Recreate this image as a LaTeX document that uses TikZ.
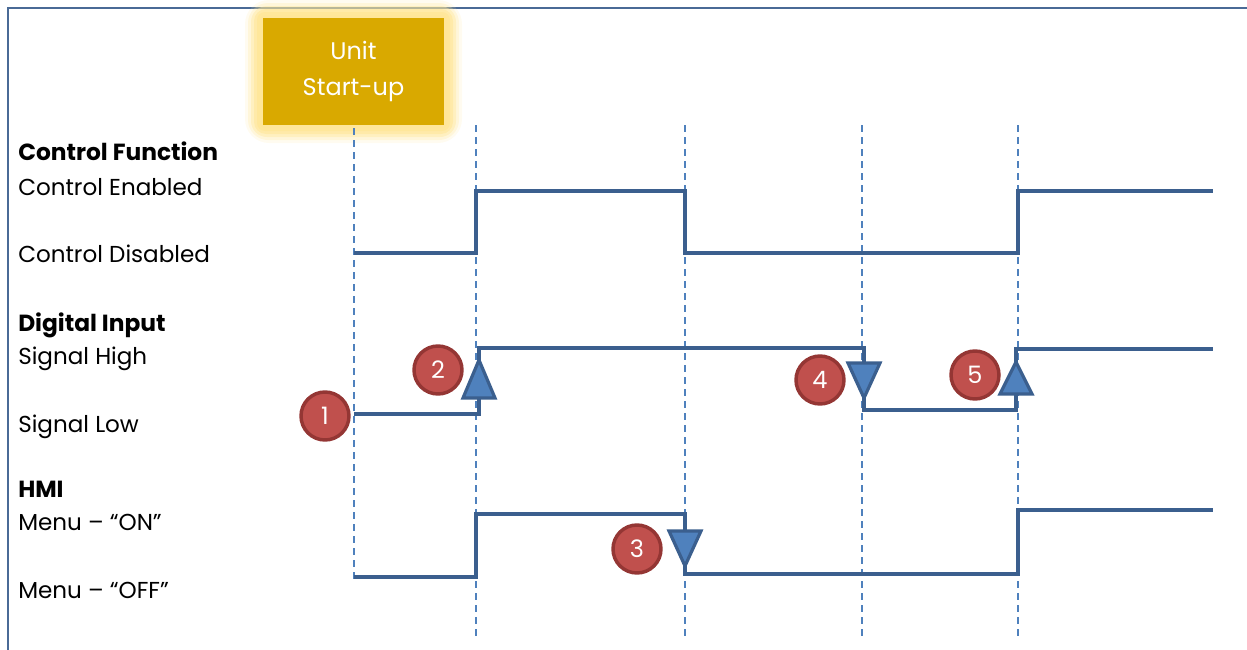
\documentclass[tikz,border=0pt]{standalone}
\usepackage{fontspec}
\setmainfont{Poppins}
\definecolor{framec}{HTML}{4A6A96}
\definecolor{sigc}{HTML}{3B5F8E}
\definecolor{guidec}{HTML}{4F81BD}
\definecolor{goldc}{HTML}{D9A900}
\definecolor{glowc}{HTML}{FFE699}
\definecolor{tric}{HTML}{4F81BD}
\definecolor{redf}{HTML}{C0504D}
\definecolor{redd}{HTML}{943634}
\tikzset{
  wave/.style={sigc,line width=3.4pt,line join=miter},
  guide/.style={guidec,line width=0.9pt,dash pattern=on 5pt off 4pt},
  lbl/.style={anchor=west,inner sep=0pt,font=\fontsize{17.3}{20}\selectfont},
  hdr/.style={lbl,font=\fontsize{17.5}{20}\selectfont\bfseries},
  num/.style={circle,fill=redf,draw=redd,line width=2.6pt,minimum size=36pt,inner sep=0pt,text=white,font=\fontsize{18}{20}\selectfont},
  tribox/.style={fill=tric,draw=sigc,line width=2.4pt,line join=miter},
}
\begin{document}
\begin{tikzpicture}[x=0.75pt,y=-0.75pt]
\useasboundingbox (0,0) rectangle (1247,650);
% frame
\draw[framec,line width=1.5pt] (8,650) -- (8,8) -- (1247,8);
% glow + box
\foreach \d/\o in {18/0.15,15/0.25,12/0.4,9/0.6,6/0.85,3/1}
  \fill[glowc,opacity=\o,rounded corners=\d pt] (263-\d,18-\d) rectangle (444+\d,125+\d);
\node[fill=goldc,minimum width=136pt,minimum height=80pt,inner sep=0pt,text=white,align=center,font=\fontsize{18}{27}\selectfont] (box) at (353.5,71.5) {Unit\\Start-up};
% guides
\coordinate (g1t) at (354,128); \coordinate (g1b) at (354,580);
\coordinate (g2t) at (476,125); \coordinate (g2b) at (476,640);
\coordinate (g3t) at (685,125); \coordinate (g3b) at (685,640);
\coordinate (g4t) at (862,125); \coordinate (g4b) at (862,640);
\coordinate (g5t) at (1018,125); \coordinate (g5b) at (1018,640);
\foreach \a in {1,...,5} \draw[guide] (g\a t) -- (g\a b);
% labels
\node[hdr] (cf) at (18,151) {Control Function};
\node[lbl] (ce) at (18,187) {Control Enabled};
\node[lbl] (cd) at (18,254) {Control Disabled};
\node[hdr] (di) at (18,325) {Digital Input};
\node[lbl] (sh) at (18,359) {Signal High};
\node[lbl] (sl) at (18,427) {Signal Low};
\node[hdr] (hmi) at (18,489) {HMI};
\node[lbl] (mon) at (18,522) {Menu – “ON”};
\node[lbl] (moff) at (18,590) {Menu – “OFF”};
% waves
\draw[wave] (354,253) -- (476,253) -- (476,191) -- (685,191) -- (685,253) -- (1018,253) -- (1018,191) -- (1213,191);
\draw[wave] (354,414) -- (479,414) -- (479,348) -- (864,348) -- (864,410) -- (1016,410) -- (1016,349) -- (1213,349);
\draw[wave] (354,577) -- (476,577) -- (476,514) -- (685,514) -- (685,574) -- (1018,574) -- (1018,510) -- (1213,510);
% triangles
\draw[tribox] (479,360) -- (495,398) -- (463,398) -- cycle;
\draw[tribox] (685,566) -- (669,531) -- (701,531) -- cycle;
\draw[tribox] (864,398) -- (848,363) -- (880,363) -- cycle;
\draw[tribox] (1016,362) -- (1032,394) -- (1000,394) -- cycle;
% numbers
\node[num] (n1) at (325,416) {1};
\node[num] (n2) at (438,370) {2};
\node[num] (n3) at (637,549) {3};
\node[num] (n4) at (820,380) {4};
\node[num] (n5) at (975,375) {5};
\end{tikzpicture}
\end{document}
